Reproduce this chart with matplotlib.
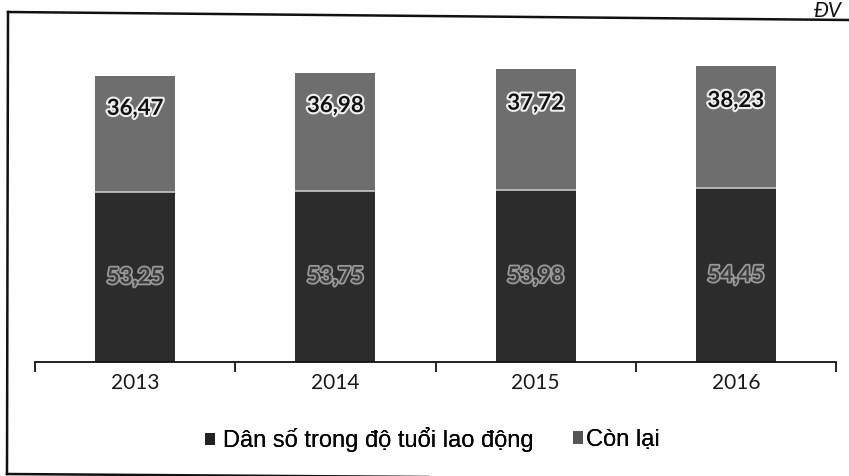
import matplotlib
matplotlib.use("Agg")
import matplotlib.pyplot as plt
import matplotlib.patheffects as pe
from matplotlib.lines import Line2D
from matplotlib.patches import Patch

# Population data (million people)
years = ["2013", "2014", "2015", "2016"]
working_age = [53.25, 53.75, 53.98, 54.45]
remaining = [36.47, 36.98, 37.72, 38.23]
series_names = ["Dân số trong độ tuổi lao động", "Còn lại"]
unit_note = "ĐV"

W, H = 849, 476
fig = plt.figure(figsize=(W / 100, H / 100), dpi=100)
fig.patch.set_facecolor("white")

ax = fig.add_axes([35 / W, (H - 362) / H, 801 / W, 319 / H])
x = list(range(len(years)))
bar_w = 0.4
dark, grey = "#2c2c2c", "#6e6e6e"

ax.bar(x, working_age, width=bar_w, color=dark, edgecolor="none")
ax.bar(x, remaining, width=bar_w, bottom=working_age, color=grey, edgecolor="none")
# light seam between the two segments
ax.hlines(working_age, [i - bar_w / 2 for i in x], [i + bar_w / 2 for i in x],
          colors="#c8c8c8", linewidth=1.2)

ax.set_xlim(-0.5, len(years) - 0.5)
ax.set_ylim(0, 100)

for s in ["left", "right", "top"]:
    ax.spines[s].set_visible(False)
ax.spines["bottom"].set_linewidth(1.3)
ax.spines["bottom"].set_color("#111111")
ax.set_yticks([])
ax.set_xticks(x)
ax.set_xticklabels(years, fontfamily="Lato", fontsize=15, color="#1a1a1a")
ax.tick_params(axis="x", which="major", length=0, pad=8)
ax.set_xticks([i - 0.5 for i in range(len(years) + 1)], minor=True)
ax.tick_params(axis="x", which="minor", length=7, width=1.3, color="#111111", direction="out")

fmt = lambda v: f"{v:.2f}".replace(".", ",")
for i, (a, b) in enumerate(zip(working_age, remaining)):
    ax.text(i, a + b * 0.72, fmt(b), ha="center", va="center", fontfamily="Lato",
            fontweight="bold", fontsize=16, color="#111111",
            path_effects=[pe.withStroke(linewidth=3, foreground="#eeeeee")])
    ax.text(i, a * 0.5, fmt(a), ha="center", va="center", fontfamily="Lato",
            fontweight="bold", fontsize=16, color="#3c3c3c",
            path_effects=[pe.withStroke(linewidth=2.5, foreground="#9a9a9a")])

# legend: two entries placed side by side
legend_font = {"family": "Liberation Sans", "size": 17}
entries = [(series_names[0], "#222222", 205, 0.35), (series_names[1], "#555555", 573, 0.12)]
for label, col, left_px, pad in entries:
    lg = fig.legend([Patch(facecolor=col, edgecolor="none")], [label], loc="center left",
                    bbox_to_anchor=(left_px / W, 1 - 440 / H), frameon=False,
                    borderpad=0, borderaxespad=0, handlelength=0.42, handleheight=0.42,
                    handletextpad=pad, prop=legend_font)
    fig.add_artist(lg)

# outer frame
frame = dict(color="#111111", linewidth=1.8, transform=None)
px = lambda xx, yy: (xx, H - yy)
for (x0, y0), (x1, y1) in [((8, 12), (849, 20)), ((8, 12), (7, 474)), ((7, 474), (849, 480))]:
    a0, a1 = px(x0, y0), px(x1, y1)
    fig.add_artist(Line2D([a0[0], a1[0]], [a0[1], a1[1]], **frame))

fig.text(814 / W, 1 - 1 / H, unit_note, ha="left", va="top", fontfamily="Lato",
         fontstyle="italic", fontsize=15, color="#111111")

fig.savefig("out.png", dpi=100)
